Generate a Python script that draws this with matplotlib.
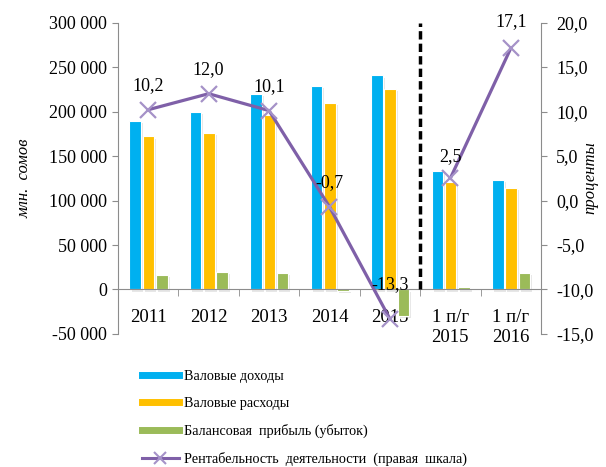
import matplotlib
matplotlib.use("Agg")
import matplotlib.pyplot as plt
import matplotlib.patheffects as pe
from matplotlib.lines import Line2D
from matplotlib.ticker import FuncFormatter, FixedLocator
import numpy as np

categories = ["2011", "2012", "2013", "2014", "2015", "1 п/г\n2015", "1 п/г\n2016"]
gross_income = [189000, 199500, 220000, 229000, 240500, 132700, 122600]
gross_expense = [172000, 175400, 196300, 209800, 225200, 120400, 114100]
balance_profit = [16500, 20200, 18300, -1500, -30000, 3000, 18700]
profitability = [10.2, 12.0, 10.1, -0.7, -13.3, 2.5, 17.1]
# annual and half-year series are drawn as separate line pieces
line_segments = [(0, 5), (5, 7)]

series_names = [
    "Валовые доходы",
    "Валовые расходы",
    "Балансовая  прибыль (убыток)",
    "Рентабельность  деятельности  (правая  шкала)",
]

BLUE = "#00B0F0"
ORANGE = "#FFC000"
GREEN = "#9BBB59"
PURPLE = "#7F60A8"
MARKER = "#A592C8"
SPINE = "#8C8C8C"

plt.rcParams["font.family"] = ["Liberation Serif", "DejaVu Serif"]

fig = plt.figure(figsize=(6.06, 4.67), dpi=100)
ax = fig.add_axes([0.1947, 0.2848, 0.6980, 0.6670])
ax2 = ax.twinx()

x = np.arange(len(categories))
width = 0.19
shadow = [pe.SimplePatchShadow(offset=(1.5, -1.5), shadow_rgbFace="#d0d0d0", alpha=0.5), pe.Normal()]
for vals, off, col in [(gross_income, -0.215, BLUE), (gross_expense, 0.005, ORANGE), (balance_profit, 0.225, GREEN)]:
    bars = ax.bar(x + off, vals, width, color=col, edgecolor="white", linewidth=0.8, zorder=2)
    for b in bars:
        b.set_path_effects(shadow)

ax.set_xlim(-0.5, len(categories) - 0.5)
ax.set_ylim(-50000, 300000)
ax.set_yticks(np.arange(-50000, 300001, 50000))
ax.yaxis.set_major_formatter(FuncFormatter(lambda v, p: f"{int(v):,}".replace(",", " ")))

ax.spines["bottom"].set_position(("data", 0))
ax.spines["top"].set_visible(False)
ax.spines["right"].set_visible(False)
for s in ["left", "bottom"]:
    ax.spines[s].set_color(SPINE)
ax.set_xticks(x)
ax.set_xticklabels(categories, fontsize=13.5, linespacing=1.25)
ax.xaxis.set_minor_locator(FixedLocator(np.arange(0.5, len(categories) - 1, 1.0)))
ax.tick_params(axis="x", which="major", length=0, pad=14)
ax.tick_params(axis="x", which="minor", length=5, color=SPINE, direction="out")
ax.tick_params(axis="y", length=4, color=SPINE, labelsize=13, pad=4)
ax.set_ylabel("млн.  сомов", fontsize=12, style="italic", labelpad=12)

# divider between annual and half-year data
ax.plot([4.5, 4.5], [0, 300000], color="black", lw=2.5, ls=(0, (2.4, 1.2)), zorder=3)

for a, b in line_segments:
    ax2.plot(x[a:b], profitability[a:b], color=PURPLE, lw=2.3, zorder=4)
ax2.plot(x, profitability, ls="none", marker="x", ms=11, mew=1.6, color=MARKER, zorder=5)
ax2.set_ylim(-15, 20)
ax2.set_yticks(np.arange(-15, 20.1, 5))
ax2.yaxis.set_major_formatter(FuncFormatter(lambda v, p: f"{v:.1f}".replace(".", ",")))
for s in ["top", "left", "bottom"]:
    ax2.spines[s].set_visible(False)
ax2.spines["right"].set_color(SPINE)
ax2.tick_params(axis="y", length=4, color=SPINE, labelsize=13, pad=7)
fig.text(0.988, 0.62, "проценты", fontsize=12, style="italic", rotation=90,
         ha="right", va="center")

offsets = [24, 24, 24, 24, 34, 22, 27]
for xi, v, o in zip(x, profitability, offsets):
    ax2.annotate(f"{v:.1f}".replace(".", ","), (xi, v), xytext=(0, o), textcoords="offset pixels",
                 ha="center", va="center", fontsize=13, zorder=6)

handles = [
    Line2D([], [], color=BLUE, lw=5),
    Line2D([], [], color=ORANGE, lw=5),
    Line2D([], [], color=GREEN, lw=5),
    Line2D([], [], color=PURPLE, lw=2.2, marker="x", ms=8, mew=1.5, mec=MARKER),
]
fig.legend(handles, series_names, loc="upper left", bbox_to_anchor=(0.234, 0.207),
           frameon=False, fontsize=10.2, handlelength=2.6, handletextpad=0.35,
           labelspacing=0.98, borderaxespad=0, borderpad=0)

fig.savefig("out.png", dpi=100)
